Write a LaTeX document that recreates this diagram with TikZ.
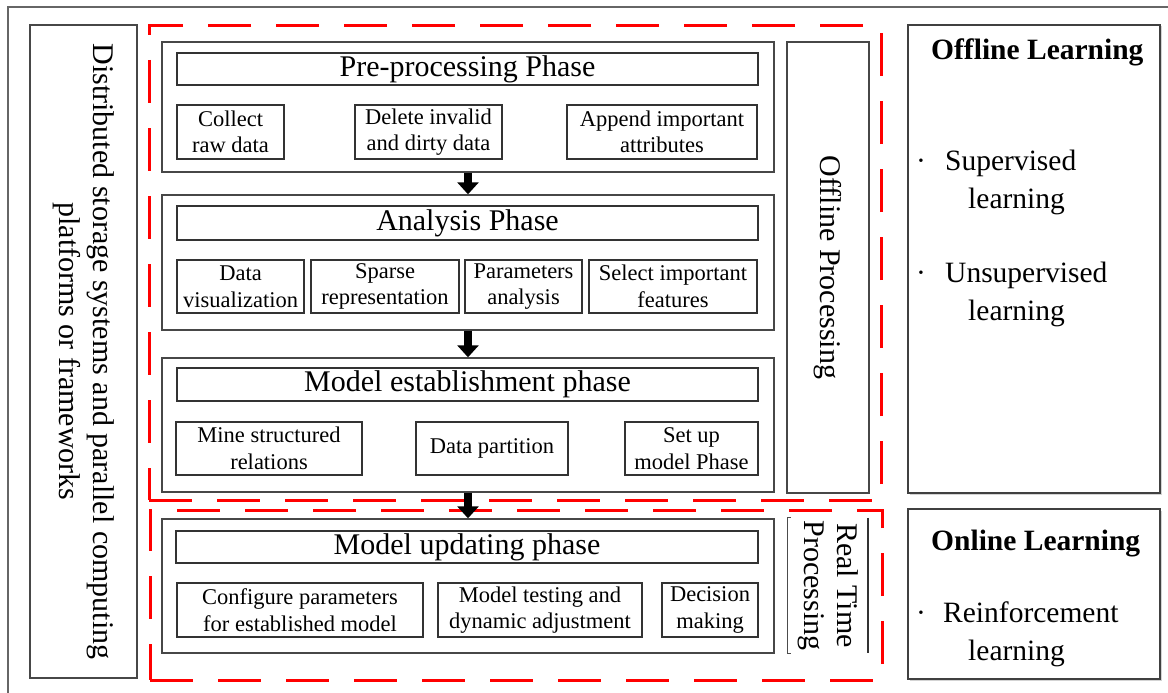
\documentclass[tikz,border=0pt]{standalone}
\usepackage{fontspec}
\setmainfont{Liberation Serif}
\usetikzlibrary{arrows.meta,shadows}
\newcommand\myfs[2]{\fontsize{#1}{#2}\selectfont}
\tikzset{
  panel/.style={draw=black!72, line width=1.4pt, fill=white, inner sep=0pt},
  titlebar/.style={draw=black!80, line width=2pt, fill=white, inner sep=0pt,
    drop shadow={opacity=0.25, shadow xshift=1.2pt, shadow yshift=-1.2pt},
    font=\myfs{30}{32}},
  subbox/.style={draw=black!80, line width=2.4pt, fill=white, inner sep=0pt, align=center,
    drop shadow={opacity=0.25, shadow xshift=1.2pt, shadow yshift=-1.2pt},
    font=\myfs{22.5}{26.5}},
  reddash/.style={draw=red, line width=3pt, dash pattern=on 43pt off 25pt, inner sep=0pt},
  learnbox/.style={draw=black!75, line width=2pt, inner sep=0pt, fill=white,
    drop shadow={opacity=0.35, shadow xshift=1.5pt, shadow yshift=-1.5pt}},
  vtext/.style={rotate=-90, align=center, font=\myfs{30}{34}, inner sep=0pt},
  ltext/.style={anchor=base west, inner sep=0pt, font=\myfs{29.5}{34}},
  bigarrow/.style={line width=8pt, -{Triangle[width=21pt,length=12pt]}, black},
}
\begin{document}
\begin{tikzpicture}[x=1pt,y=-1pt]
\useasboundingbox (0,0) rectangle (1168,693);
% outer frame
\draw[black!60, line width=1.2pt] (8,693) -- (8,7) -- (1168,7);

% left storage box
\node[panel, minimum width=107pt, minimum height=653pt] (dist) at (83.5,351.5) {};
\node[vtext] (distt) at (dist.center) {Distributed storage systems and parallel computing\\platforms or frameworks};

% red dashed regions
\node[reddash, minimum width=732pt, minimum height=474pt] (offreg) at (515,263) {};
\node[reddash, minimum width=732pt, minimum height=170pt] (rtreg) at (516,595) {};

% pre-processing
\node[panel, minimum width=612pt, minimum height=130pt] (pre) at (468,107) {};
\node[titlebar, minimum width=581pt, minimum height=32pt] (pret) at (467.5,69) {Pre-processing Phase};
\node[subbox, minimum width=107pt, minimum height=54pt] (collect) at (230.5,132) {Collect\\raw data};
\node[subbox, minimum width=147pt, minimum height=54pt] (delete) at (428.5,132) {Delete invalid\\and dirty data};
\node[subbox, minimum width=190pt, minimum height=54pt] (append) at (662,132) {Append important\\attributes};

% analysis
\node[panel, minimum width=612pt, minimum height=135pt] (ana) at (468,262.5) {};
\node[titlebar, minimum width=581pt, minimum height=34pt] (anat) at (467.5,223) {Analysis Phase};
\node[subbox, minimum width=127pt, minimum height=53pt] (vis) at (240.5,286.5) {Data\\visualization};
\node[subbox, minimum width=148pt, minimum height=53pt] (sparse) at (385,286.5) {Sparse\\representation};
\node[subbox, minimum width=117pt, minimum height=53pt] (param) at (523.5,286.5) {Parameters\\analysis};
\node[subbox, minimum width=168pt, minimum height=53pt] (select) at (673,286.5) {Select important\\features};

% model establishment
\node[panel, minimum width=612pt, minimum height=134pt] (est) at (468,425) {};
\node[titlebar, minimum width=581pt, minimum height=33pt] (estt) at (467.5,384.5) {Model establishment phase};
\node[subbox, line width=1.6pt, minimum width=186pt, minimum height=53pt] (mine) at (269,448.5) {Mine structured\\relations};
\node[subbox, line width=1.6pt, minimum width=152pt, minimum height=53pt] (part) at (492,448.5) {Data partition};
\node[subbox, minimum width=133pt, minimum height=53pt] (setup) at (691.5,448.5) {Set up\\model Phase};

% model updating
\node[panel, minimum width=612pt, minimum height=134pt] (upd) at (468,586) {};
\node[titlebar, minimum width=582pt, minimum height=32pt] (updt) at (467,547) {Model updating phase};
\node[subbox, minimum width=246pt, minimum height=54pt] (conf) at (300,610) {Configure parameters\\for established model};
\node[subbox, minimum width=204pt, minimum height=54pt] (test) at (540,610) {Model testing and\\dynamic adjustment};
\node[subbox, minimum width=96pt, minimum height=54pt] (dec) at (710,610) {Decision\\making};

% offline processing
\node[panel, minimum width=82pt, minimum height=451pt] (offp) at (828,267.5) {};
\node[vtext] (offpt) at (offp.center) {Offline Processing};

% real time processing
\node[inner sep=0pt, minimum width=80pt, minimum height=135pt] (rtb) at (828,585.5) {};
\node[vtext, font=\myfs{30}{33}] (rtt) at (rtb.center) {Real Time\\Processing};
\draw[black!70, line width=1.2pt] ([xshift=3pt]rtb.north west) -- (rtb.north west) -- (rtb.south west) -- ([xshift=3pt]rtb.south west);
\draw[black!80, line width=2pt] (rtb.north east) -- (rtb.south east);

% arrows
\draw[bigarrow] (pre.south) -- (ana.north);
\draw[bigarrow] (ana.south) -- (est.north);
\draw[bigarrow] (est.south) -- (upd.north);

% learning boxes
\node[learnbox, minimum width=252pt, minimum height=468pt] (offl) at (1034,259) {};
\node[ltext, font=\myfs{29.5}{34}\bfseries] (offlt) at (931,60) {Offline Learning};
\node[ltext] (b1) at (916,170) {·};
\node[ltext] (sup1) at (945,170) {Supervised};
\node[ltext] (sup2) at (968,208) {learning};
\node[ltext] (b2) at (916,282) {·};
\node[ltext] (uns1) at (945,282) {Unsupervised};
\node[ltext] (uns2) at (968,320) {learning};

\node[learnbox, minimum width=252pt, minimum height=170pt] (onl) at (1034,594) {};
\node[ltext, font=\myfs{29.5}{34}\bfseries] (onlt) at (931,550) {Online Learning};
\node[ltext] (b3) at (916,622) {·};
\node[ltext] (rein1) at (943,622) {Reinforcement};
\node[ltext] (rein2) at (968,660) {learning};
\end{tikzpicture}
\end{document}
